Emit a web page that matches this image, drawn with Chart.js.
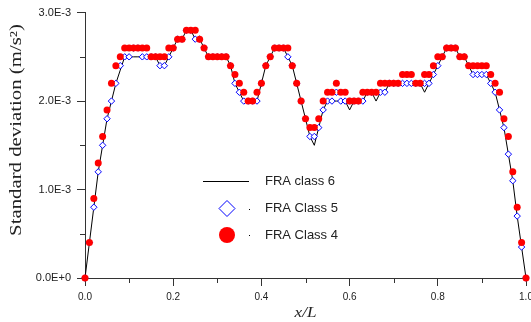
<!DOCTYPE html>
<html lang="en">
<head>
<meta charset="UTF-8">
<title>Standard deviation along x/L</title>
<script src="https://cdn.jsdelivr.net/npm/chart.js"></script>
<style>
  body { margin: 0; background: #fff; }
  canvas { display: block; }
</style>
</head>
<body>
<canvas id="sdChart" width="531" height="322"></canvas>
<script>
// positions along the span (x/L)
const xPos = [
  0.00, 0.01, 0.02, 0.03, 0.04, 0.05, 0.06, 0.07, 0.08, 0.09,
  0.10, 0.11, 0.12, 0.13, 0.14, 0.15, 0.16, 0.17, 0.18, 0.19,
  0.20, 0.21, 0.22, 0.23, 0.24, 0.25, 0.26, 0.27, 0.28, 0.29,
  0.30, 0.31, 0.32, 0.33, 0.34, 0.35, 0.36, 0.37, 0.38, 0.39,
  0.40, 0.41, 0.42, 0.43, 0.44, 0.45, 0.46, 0.47, 0.48, 0.49,
  0.50, 0.51, 0.52, 0.53, 0.54, 0.55, 0.56, 0.57, 0.58, 0.59,
  0.60, 0.61, 0.62, 0.63, 0.64, 0.65, 0.66, 0.67, 0.68, 0.69,
  0.70, 0.71, 0.72, 0.73, 0.74, 0.75, 0.76, 0.77, 0.78, 0.79,
  0.80, 0.81, 0.82, 0.83, 0.84, 0.85, 0.86, 0.87, 0.88, 0.89,
  0.90, 0.91, 0.92, 0.93, 0.94, 0.95, 0.96, 0.97, 0.98, 0.99, 1.00
];

// standard deviation, in units of 1E-3 m/s2
const class6 = [
  0, 0.4, 0.8, 1.2, 1.5, 1.8, 2.0, 2.2, 2.35, 2.5,
  2.5, 2.5, 2.5, 2.5, 2.5, 2.5, 2.5, 2.4, 2.4, 2.5,
  2.6, 2.7, 2.7, 2.8, 2.8, 2.7, 2.7, 2.6, 2.5, 2.5,
  2.5, 2.5, 2.5, 2.4, 2.2, 2.1, 2.0, 2.0, 2.0, 2.0,
  2.2, 2.4, 2.5, 2.6, 2.6, 2.6, 2.5, 2.4, 2.2, 2.0,
  1.8, 1.6, 1.5, 1.7, 1.9, 2.0, 2.0, 2.0, 2.0, 2.0,
  1.9, 2.0, 2.0, 2.0, 2.1, 2.1, 2.0, 2.1, 2.1, 2.2,
  2.2, 2.2, 2.2, 2.2, 2.2, 2.2, 2.2, 2.1, 2.2, 2.3,
  2.4, 2.5, 2.6, 2.6, 2.6, 2.5, 2.5, 2.4, 2.3, 2.3,
  2.3, 2.3, 2.2, 2.1, 1.9, 1.7, 1.4, 1.1, 0.7, 0.35, 0
];
const class5 = [
  0, 0.4, 0.8, 1.2, 1.5, 1.8, 2.0, 2.2, 2.4, 2.5,
  2.5, 2.6, 2.6, 2.5, 2.5, 2.5, 2.5, 2.4, 2.4, 2.5,
  2.6, 2.7, 2.7, 2.8, 2.8, 2.7, 2.7, 2.6, 2.5, 2.5,
  2.5, 2.5, 2.5, 2.4, 2.2, 2.1, 2.0, 2.0, 2.0, 2.0,
  2.2, 2.4, 2.5, 2.6, 2.6, 2.6, 2.5, 2.4, 2.2, 2.0,
  1.8, 1.6, 1.6, 1.7, 1.9, 2.0, 2.0, 2.1, 2.0, 2.0,
  2.0, 2.0, 2.0, 2.0, 2.1, 2.1, 2.1, 2.1, 2.1, 2.2,
  2.2, 2.2, 2.2, 2.2, 2.2, 2.2, 2.2, 2.2, 2.2, 2.3,
  2.4, 2.5, 2.6, 2.6, 2.6, 2.5, 2.5, 2.4, 2.3, 2.3,
  2.3, 2.3, 2.2, 2.1, 1.9, 1.7, 1.4, 1.1, 0.7, 0.35, 0
];
const class4 = [
  0, 0.4, 0.9, 1.3, 1.6, 1.9, 2.2, 2.4, 2.5, 2.6,
  2.6, 2.6, 2.6, 2.6, 2.6, 2.5, 2.5, 2.5, 2.5, 2.6,
  2.6, 2.7, 2.7, 2.8, 2.8, 2.8, 2.7, 2.6, 2.5, 2.5,
  2.5, 2.5, 2.5, 2.4, 2.3, 2.2, 2.1, 2.0, 2.0, 2.1,
  2.2, 2.4, 2.5, 2.6, 2.6, 2.6, 2.6, 2.4, 2.2, 2.0,
  1.8, 1.7, 1.7, 1.8, 2.0, 2.1, 2.1, 2.2, 2.1, 2.1,
  2.0, 2.0, 2.0, 2.1, 2.1, 2.1, 2.1, 2.2, 2.2, 2.2,
  2.2, 2.2, 2.3, 2.3, 2.3, 2.2, 2.2, 2.3, 2.3, 2.4,
  2.5, 2.5, 2.6, 2.6, 2.6, 2.5, 2.5, 2.4, 2.4, 2.4,
  2.4, 2.4, 2.3, 2.2, 2.1, 1.8, 1.6, 1.2, 0.8, 0.4, 0
];

const xTickLabels = ['0.0', '0.2', '0.4', '0.6', '0.8', '1.0'];
const yTickLabels = ['0.0E+0', '1.0E-3', '2.0E-3', '3.0E-3'];
const seriesNames = ['FRA class 6', 'FRA Class 5', 'FRA Class 4'];
const yTitle = 'Standard deviation (m/s\u00B2)';
const xTitle = 'x/L';

const axisColor = '#333';
const textColor = '#222';
const red = '#ff0000';
const blue = '#0000ff';

function toPoints(vals) {
  return vals.map((v, i) => ({ x: xPos[i], y: v }));
}
const isMajorX = v => Math.round(v * 10) % 2 === 0;
const isMajorY = v => Math.abs(v - Math.round(v)) < 1e-6;

// short minor ticks, titles and the in-plot legend
const extras = {
  id: 'extras',
  afterDraw(chart) {
    const { ctx, scales: { x, y } } = chart;
    ctx.save();
    ctx.strokeStyle = axisColor;
    ctx.lineWidth = 1;
    ctx.beginPath();
    x.ticks.forEach(t => {
      if (isMajorX(t.value)) return;
      const px = Math.round(x.getPixelForValue(t.value)) + 0.5;
      ctx.moveTo(px, x.top);
      ctx.lineTo(px, x.top + 5);
    });
    y.ticks.forEach(t => {
      if (isMajorY(t.value)) return;
      const py = Math.round(y.getPixelForValue(t.value)) + 0.5;
      ctx.moveTo(y.right, py);
      ctx.lineTo(y.right - 5, py);
    });
    ctx.stroke();

    // axis titles
    ctx.fillStyle = textColor;
    ctx.textAlign = 'center';
    ctx.textBaseline = 'middle';
    ctx.save();
    ctx.translate(17, 130);
    ctx.rotate(-Math.PI / 2);
    ctx.scale(1.3, 1);
    ctx.font = '16px "Liberation Serif"';
    ctx.fillText(yTitle, 0, 0);
    ctx.restore();
    ctx.save();
    ctx.translate((x.left + x.right) / 2, 313);
    ctx.scale(1.15, 1);
    ctx.font = 'italic 15px "Liberation Serif"';
    ctx.fillText(xTitle, 0, 0);
    ctx.restore();

    // legend
    const ds = chart.data.datasets;
    const mx = 227, tx = 265;
    const rows = [181.5, 208.5, 235];
    ctx.font = '13px "Liberation Sans"';
    ctx.textAlign = 'left';
    ctx.fillStyle = textColor;
    seriesNames.forEach((name, i) => ctx.fillText(name, tx, rows[i]));

    const line = ds.find(d => d.label === seriesNames[0]);
    ctx.strokeStyle = line.borderColor;
    ctx.beginPath();
    ctx.moveTo(203, 181.5);
    ctx.lineTo(249, 181.5);
    ctx.stroke();

    const c5 = ds.find(d => d.label === seriesNames[1]);
    ctx.strokeStyle = c5.borderColor;
    ctx.fillStyle = '#fff';
    ctx.beginPath();
    ctx.moveTo(mx, rows[1] - 8);
    ctx.lineTo(mx + 8, rows[1]);
    ctx.lineTo(mx, rows[1] + 8);
    ctx.lineTo(mx - 8, rows[1]);
    ctx.closePath();
    ctx.fill();
    ctx.stroke();

    const c4 = ds.find(d => d.label === seriesNames[2]);
    ctx.fillStyle = c4.backgroundColor;
    ctx.beginPath();
    ctx.arc(mx, rows[2], 8, 0, Math.PI * 2);
    ctx.fill();

    ctx.fillStyle = '#000';
    ctx.fillRect(249, Math.round(rows[1]), 1, 1);
    ctx.fillRect(249, Math.round(rows[2]), 1, 1);
    ctx.restore();
  }
};

const ctx = document.getElementById('sdChart').getContext('2d');
const sdChart = new Chart(ctx, {
  type: 'line',
  data: {
    datasets: [
      {
        label: seriesNames[2],
        data: toPoints(class4),
        showLine: false,
        pointStyle: 'circle',
        pointRadius: 3.5,
        pointBorderWidth: 0,
        backgroundColor: red,
        borderColor: red,
        clip: false,
        order: 1
      },
      {
        label: seriesNames[1],
        data: toPoints(class5),
        showLine: false,
        pointStyle: 'rectRot',
        pointRadius: 3.2,
        pointBorderWidth: 1,
        backgroundColor: '#fff',
        borderColor: blue,
        clip: false,
        order: 2
      },
      {
        label: seriesNames[0],
        data: toPoints(class6),
        borderColor: '#000',
        borderWidth: 1,
        pointRadius: 0,
        tension: 0,
        fill: false,
        clip: false,
        order: 3
      }
    ]
  },
  options: {
    responsive: false,
    animation: false,
    events: [],
    layout: { padding: { top: 12, right: 4.5, left: 0, bottom: 0 } },
    scales: {
      x: {
        type: 'linear',
        min: 0,
        max: 1,
        border: { display: true, color: axisColor, width: 1 },
        grid: {
          drawOnChartArea: false,
          drawTicks: true,
          tickLength: 8,
          tickColor: c => isMajorX(c.tick.value) ? axisColor : 'rgba(0,0,0,0)'
        },
        ticks: {
          stepSize: 0.1,
          autoSkip: false,
          maxRotation: 0,
          padding: 5,
          color: textColor,
          font: { family: '"Liberation Sans"', size: 10 },
          callback: v => isMajorX(v) ? xTickLabels[Math.round(v * 5)] : ''
        },
        afterFit: s => { s.height = 44; s.paddingLeft = 0; s.paddingRight = 0; }
      },
      y: {
        min: 0,
        max: 3,
        border: { display: true, color: axisColor, width: 1 },
        grid: {
          drawOnChartArea: false,
          drawTicks: true,
          tickLength: 8,
          tickColor: c => isMajorY(c.tick.value) ? axisColor : 'rgba(0,0,0,0)'
        },
        ticks: {
          stepSize: 0.5,
          padding: 6,
          color: textColor,
          font: { family: '"Liberation Sans"', size: 11 },
          callback: v => isMajorY(v) ? yTickLabels[Math.round(v)] : ''
        },
        afterFit: s => { s.width = 85; }
      }
    },
    plugins: {
      legend: { display: false },
      tooltip: { enabled: false },
      title: { display: false }
    }
  },
  plugins: [extras]
});
</script>
</body>
</html>
